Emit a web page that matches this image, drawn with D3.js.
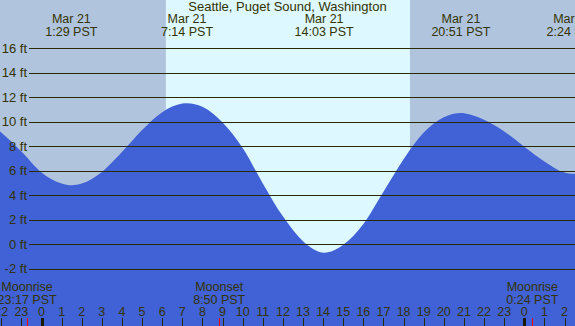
<!DOCTYPE html>
<html>
<head>
<meta charset="utf-8">
<script src="https://cdn.jsdelivr.net/npm/d3@7"></script>
<style>
  body { margin: 0; overflow: hidden; }
  svg { display: block; font-family: "Liberation Sans", Arial, sans-serif; }
</style>
</head>
<body>
<svg id="tide_svg" width="575" height="326"></svg>
<script>
// hours are counted from midnight Mar 21 (PST); negative = Mar 20, >24 = Mar 22
const title = "Seattle, Puget Sound, Washington";

// tide height, one value per hour from -3 to 27
const hourlyHours = d3.range(-3, 28);
const hourlyFt = [10.3, 9.1, 7.55, 5.85, 4.95, 4.94, 5.89, 7.51, 9.31, 10.77, 11.47,
                  11.2, 9.93, 7.85, 4.96, 2.27, 0.25, -0.69, -0.05, 1.65, 4.27, 6.93,
                  9.1, 10.35, 10.68, 10.15, 9.2, 7.95, 6.75, 5.85, 5.8];

// highs and lows
const extremeHours = [1.483, 7.233, 14.05, 20.85, 26.4];
const extremeFt = [4.8, 11.5, -0.7, 10.7, 5.75];
const extremeDays = ["Mar 21", "Mar 21", "Mar 21", "Mar 21", "Mar 22"];
const extremeLabels = ["1:29 PST", "7:14 PST", "14:03 PST", "20:51 PST", "2:24 PST"];

const sunrise = 6.183, sunset = 18.317;

// moon events
const moonHours = [-0.717, 8.833, 24.4];
const moonNames = ["Moonrise", "Moonset", "Moonrise"];
const moonTimes = ["23:17 PST", "8:50 PST", "0:24 PST"];

const ftTicks = d3.range(-2, 17, 2);
const hourTicks = d3.range(-2, 27);

const svg = d3.select("#tide_svg");
const width = 575, height = 326;
const textColor = "#333300";
const fs = "13px", fsSmall = "12.5px";

const x = d3.scaleLinear().domain([0, 24]).range([41.5, 524.3]);
const y = d3.scaleLinear().domain([0, 16]).range([244.2, 48]);

// night / day background
svg.append("rect").attr("x", 0).attr("y", 0).attr("width", width).attr("height", height)
    .attr("fill", "#b0c4de");
svg.append("rect")
    .attr("x", x(sunrise)).attr("y", 0)
    .attr("width", x(sunset) - x(sunrise)).attr("height", height)
    .attr("fill", "#ddf8ff");

// water
let points = hourlyHours.map((h, i) => [h, hourlyFt[i]]);
extremeHours.forEach((h, i) => points.push([h, extremeFt[i]]));
points.sort((a, b) => a[0] - b[0]);

const area = d3.area()
    .x(d => x(d[0]))
    .y0(height)
    .y1(d => y(d[1]))
    .curve(d3.curveMonotoneX);
svg.append("path").datum(points).attr("d", area).attr("fill", "#4161d6");

// grid lines + labels
const grid = svg.append("g");
grid.selectAll("line").data(ftTicks).enter().append("line")
    .attr("x1", 29).attr("x2", width)
    .attr("y1", d => Math.round(y(d)) + 0.5).attr("y2", d => Math.round(y(d)) + 0.5)
    .attr("stroke", "#2a2a00").attr("stroke-width", 1.2);
grid.selectAll("text").data(ftTicks).enter().append("text")
    .attr("x", 27).attr("y", d => y(d) + 4.5)
    .attr("text-anchor", "end")
    .attr("font-size", fs).attr("fill", textColor)
    .text(d => d + " ft");

// title
svg.append("text").attr("x", 287.5).attr("y", 11)
    .attr("text-anchor", "middle").attr("font-size", fs).attr("fill", textColor)
    .text(title);

// high / low labels
const ext = svg.append("g");
extremeHours.forEach((h, i) => {
    ext.append("text").attr("x", x(h)).attr("y", 23)
        .attr("text-anchor", "middle").attr("font-size", fsSmall).attr("fill", textColor)
        .text(extremeDays[i]);
    ext.append("text").attr("x", x(h)).attr("y", 36)
        .attr("text-anchor", "middle").attr("font-size", fsSmall).attr("fill", textColor)
        .text(extremeLabels[i]);
});

// moon labels
moonHours.forEach((h, i) => {
    svg.append("text").attr("x", x(h)).attr("y", 291)
        .attr("text-anchor", "middle").attr("font-size", fsSmall).attr("fill", textColor)
        .text(moonNames[i]);
    svg.append("text").attr("x", x(h)).attr("y", 303.5)
        .attr("text-anchor", "middle").attr("font-size", fsSmall).attr("fill", textColor)
        .text(moonTimes[i]);
});

// hour axis
const hours = svg.append("g");
hours.selectAll("text").data(hourTicks).enter().append("text")
    .attr("x", d => x(d)).attr("y", 316)
    .attr("text-anchor", "middle").attr("font-size", fsSmall).attr("fill", textColor)
    .text(d => ((d % 24) + 24) % 24);
hours.selectAll("line").data(hourTicks).enter().append("line")
    .attr("x1", d => Math.round(x(d)) + 0.5).attr("x2", d => Math.round(x(d)) + 0.5)
    .attr("y1", 318).attr("y2", height)
    .attr("stroke", d => d % 24 === 0 ? "#1a1a00" : "#2a2a00")
    .attr("stroke-width", d => d % 24 === 0 ? 3 : 1);
svg.selectAll(".moon").data(moonHours).enter().append("line")
    .attr("class", "moon")
    .attr("x1", d => Math.round(x(d)) + 0.5).attr("x2", d => Math.round(x(d)) + 0.5)
    .attr("y1", 318).attr("y2", height)
    .attr("stroke", "#ff0000").attr("stroke-width", 1);
</script>
</body>
</html>
